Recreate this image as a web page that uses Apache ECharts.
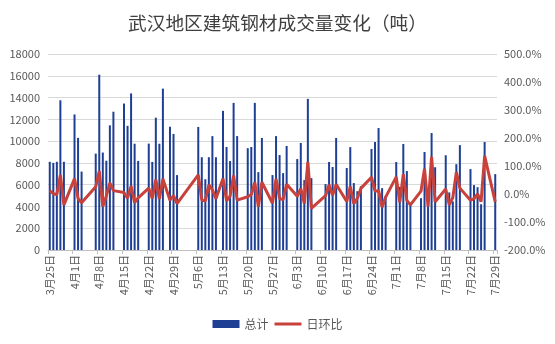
<!DOCTYPE html>
<html>
<head>
<meta charset="utf-8">
<script src="https://cdn.jsdelivr.net/npm/echarts@6/dist/echarts.min.js"></script>
<style>
html,body{margin:0;padding:0;background:#fff;}
#c{width:555px;height:344px;}
</style>
</head>
<body>
<div id="c"></div>
<script>
// Trading days with data
const tradeDays = [
 '3月25日','3月26日','3月27日','3月28日','3月29日',
 '4月1日','4月2日','4月3日',
 '4月7日','4月8日','4月9日','4月10日','4月11日','4月12日',
 '4月15日','4月16日','4月17日','4月18日','4月19日',
 '4月22日','4月23日','4月24日','4月25日','4月26日',
 '4月28日','4月29日','4月30日',
 '5月6日','5月7日','5月8日','5月9日','5月10日','5月11日',
 '5月13日','5月14日','5月15日','5月16日','5月17日',
 '5月20日','5月21日','5月22日','5月23日','5月24日',
 '5月27日','5月28日','5月29日','5月30日','5月31日',
 '6月3日','6月4日','6月5日','6月6日','6月7日',
 '6月11日','6月12日','6月13日','6月14日',
 '6月17日','6月18日','6月19日','6月20日','6月21日',
 '6月24日','6月25日','6月26日','6月27日','6月28日',
 '7月1日','7月2日','7月3日','7月4日','7月5日',
 '7月8日','7月9日','7月10日','7月11日','7月12日',
 '7月15日','7月16日','7月17日','7月18日','7月19日',
 '7月22日','7月23日','7月24日','7月25日','7月26日',
 '7月29日'
];
// 总计 (吨)
const totals = [
 8100,8000,8100,13750,8100,
 12450,10300,7200,
 8850,16100,8950,8200,11450,12700,
 13450,11400,14380,9760,8180,
 9770,8090,12150,9760,14820,
 11320,10660,6880,
 11300,8520,6500,8520,10460,8520,
 12780,9460,8170,13510,10460,
 9350,9460,13510,7150,10290,
 6880,10460,8720,7060,9550,
 8350,9830,6420,13880,6600,
 6050,8080,7620,10290,
 7530,9450,6150,5400,5850,
 9280,9920,11200,5680,4950,
 8080,5800,9740,7250,4160,
 4760,9000,4300,10740,7600,
 8700,5290,4460,7880,9630,
 7430,5960,5770,4200,9920,
 6970
];
// 日环比 (%)
const ratios = [
 12,1,-2,68,-39,
 55,-16,-31,
 26,82,-45,-7,40,12,
 5,-15,28,-31,-14,
 21,-16,52,-18,54,
 -22,-6,-34,
 68,-22,-25,33,15,-17,
 55,-24,-8,66,-22,
 -10,-2,41,-46,42,
 -33,54,-16,-20,35,
 -8,19,-34,115,-51,
 -6,33,-5,35,
 -27,27,-35,-15,20,
 60,10,12,-47,-11,
 61,-30,71,-23,-39,
 10,90,-45,133,-28,
 18,-39,-13,78,21,
 -22,-17,0,-27,136,
 -28
];
// calendar span of the date axis
const monthSpans = [[3,25,31],[4,1,30],[5,1,31],[6,1,30],[7,1,29]];
const yLeftTicks = {min:0, max:18000, interval:2000};
const yRightTicks = {min:-200, max:500, interval:100};

const categories = [];
monthSpans.forEach(function(s){
  for (let d = s[1]; d <= s[2]; d++) categories.push(s[0] + '月' + d + '日');
});
const barData = categories.map(function(c){
  const i = tradeDays.indexOf(c); return i < 0 ? null : totals[i];
});
const lineData = categories.map(function(c){
  const i = tradeDays.indexOf(c); return i < 0 ? null : ratios[i];
});

const font = 'Noto Sans CJK SC';
const chart = echarts.init(document.getElementById('c'), null, {renderer:'canvas'});
chart.setOption({
  animation: false,
  backgroundColor: '#fff',
  textStyle: {fontFamily: font},
  title: {
    text: '武汉地区建筑钢材成交量变化（吨）',
    left: 'center', top: 9,
    textStyle: {fontFamily: font, fontSize: 18.7, fontWeight: 'normal', color: '#404040'}
  },
  legend: {
    bottom: 9, left: 'center',
    itemWidth: 27, itemHeight: 8, itemGap: 6,
    textStyle: {fontFamily: font, fontSize: 12, color: '#595959'},
    data: [
      {name:'总计', icon:'rect'},
      {name:'日环比', icon:'path://M0,0L27,0L27,3L0,3Z'}
    ]
  },
  grid: {left: 48, right: 58, top: 54, bottom: 94},
  xAxis: {
    type: 'category',
    data: categories,
    boundaryGap: true,
    axisLine: {lineStyle: {color: '#BFBFBF'}},
    axisTick: {show: true, interval: 6, alignWithLabel: false, length: 4, lineStyle: {color: '#BFBFBF'}},
    axisLabel: {interval: 6, rotate: 90, fontSize: 11, color: '#595959', fontFamily: font, margin: 5}
  },
  yAxis: [
    {
      type: 'value', min: yLeftTicks.min, max: yLeftTicks.max, interval: yLeftTicks.interval,
      axisLine: {show: false}, axisTick: {show: false},
      splitLine: {lineStyle: {color: '#D9D9D9'}},
      axisLabel: {fontSize: 11, color: '#595959', fontFamily: font, margin: 8,
        formatter: function(v){ return String(v); }}
    },
    {
      type: 'value', min: yRightTicks.min, max: yRightTicks.max, interval: yRightTicks.interval,
      axisLine: {show: false}, axisTick: {show: false},
      splitLine: {show: false},
      axisLabel: {fontSize: 11, color: '#595959', fontFamily: font, margin: 7,
        formatter: function(v){ return v.toFixed(1) + '%'; }}
    }
  ],
  series: [
    {
      name: '总计', type: 'bar', data: barData, barWidth: 2,
      itemStyle: {color: '#1F3F94'}
    },
    {
      name: '日环比', type: 'line', yAxisIndex: 1, data: lineData,
      connectNulls: true, symbol: 'none', smooth: false,
      lineStyle: {color: '#C8413B', width: 3},
      itemStyle: {color: '#C8413B'}
    }
  ]
});
</script>
</body>
</html>
